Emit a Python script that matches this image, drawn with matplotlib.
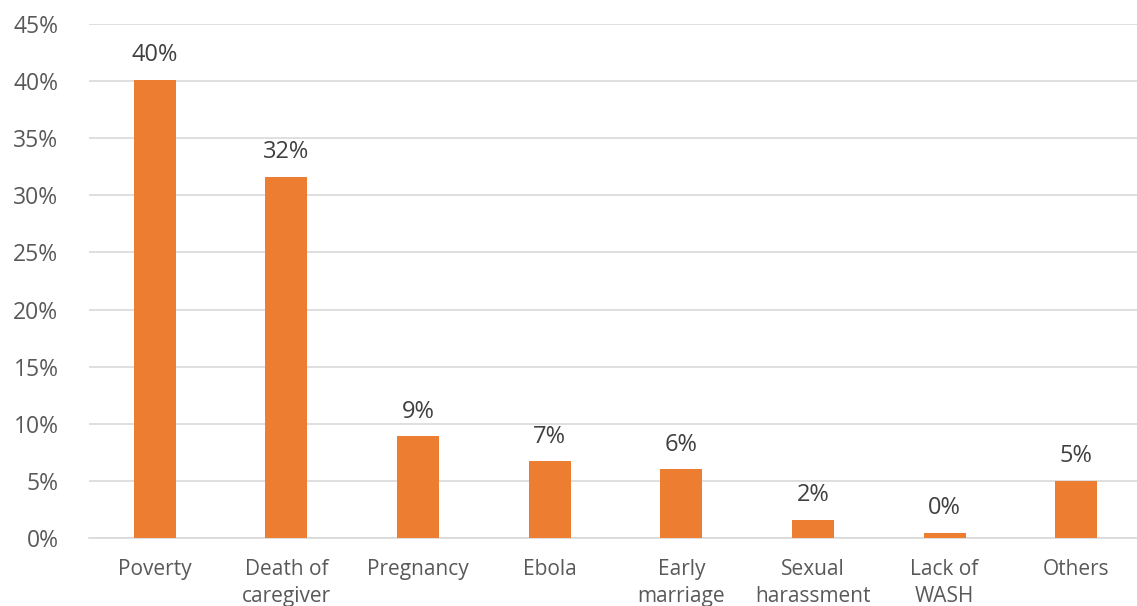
import matplotlib.pyplot as plt
from matplotlib.ticker import PercentFormatter, MultipleLocator

categories = ["Poverty", "Death of\ncaregiver", "Pregnancy", "Ebola",
              "Early\nmarriage", "Sexual\nharassment", "Lack of\nWASH", "Others"]
shares = [0.401, 0.316, 0.089, 0.067, 0.060, 0.016, 0.0045, 0.050]
title = "Reasons for girls dropping out of school"

plt.rcParams['font.family'] = ['Open Sans', 'DejaVu Sans']

fig = plt.figure(figsize=(11.37, 6.06), dpi=100)
ax = fig.add_axes([89 / 1137, 1 - 538 / 606, (1142 - 89) / 1137, (538 - 24) / 606])

x = range(len(categories))
ax.bar(x, shares, width=0.32, color='#ED7D31', zorder=3)
for xi, v in zip(x, shares):
    ax.text(xi, v + 0.011, f"{v:.0%}", ha='center', va='bottom',
            fontsize=17, color='#404040')

ax.set_xlim(-0.5, len(categories) - 0.5)
ax.set_ylim(0, 0.45)
ax.yaxis.set_major_locator(MultipleLocator(0.05))
ax.yaxis.set_major_formatter(PercentFormatter(1.0, decimals=0))
ax.grid(axis='y', color='#D9D9D9', linewidth=1.2, zorder=0)
ax.set_xticks(list(x))
ax.set_xticklabels(categories, linespacing=1.4)
ax.tick_params(axis='y', length=0, pad=22, labelsize=16.5, labelcolor='#595959')
ax.tick_params(axis='x', length=0, pad=15, labelsize=15, labelcolor='#595959')
for s in ax.spines.values():
    s.set_visible(False)
ax.spines['bottom'].set_visible(True)
ax.spines['bottom'].set_color('#D9D9D9')
ax.spines['bottom'].set_linewidth(1.2)

fig.text(0.57, 1 + 8 / 606, title, ha='center', va='baseline',
         fontsize=21, fontweight='bold', color='#595959')

fig.savefig("out.png", dpi=100)
